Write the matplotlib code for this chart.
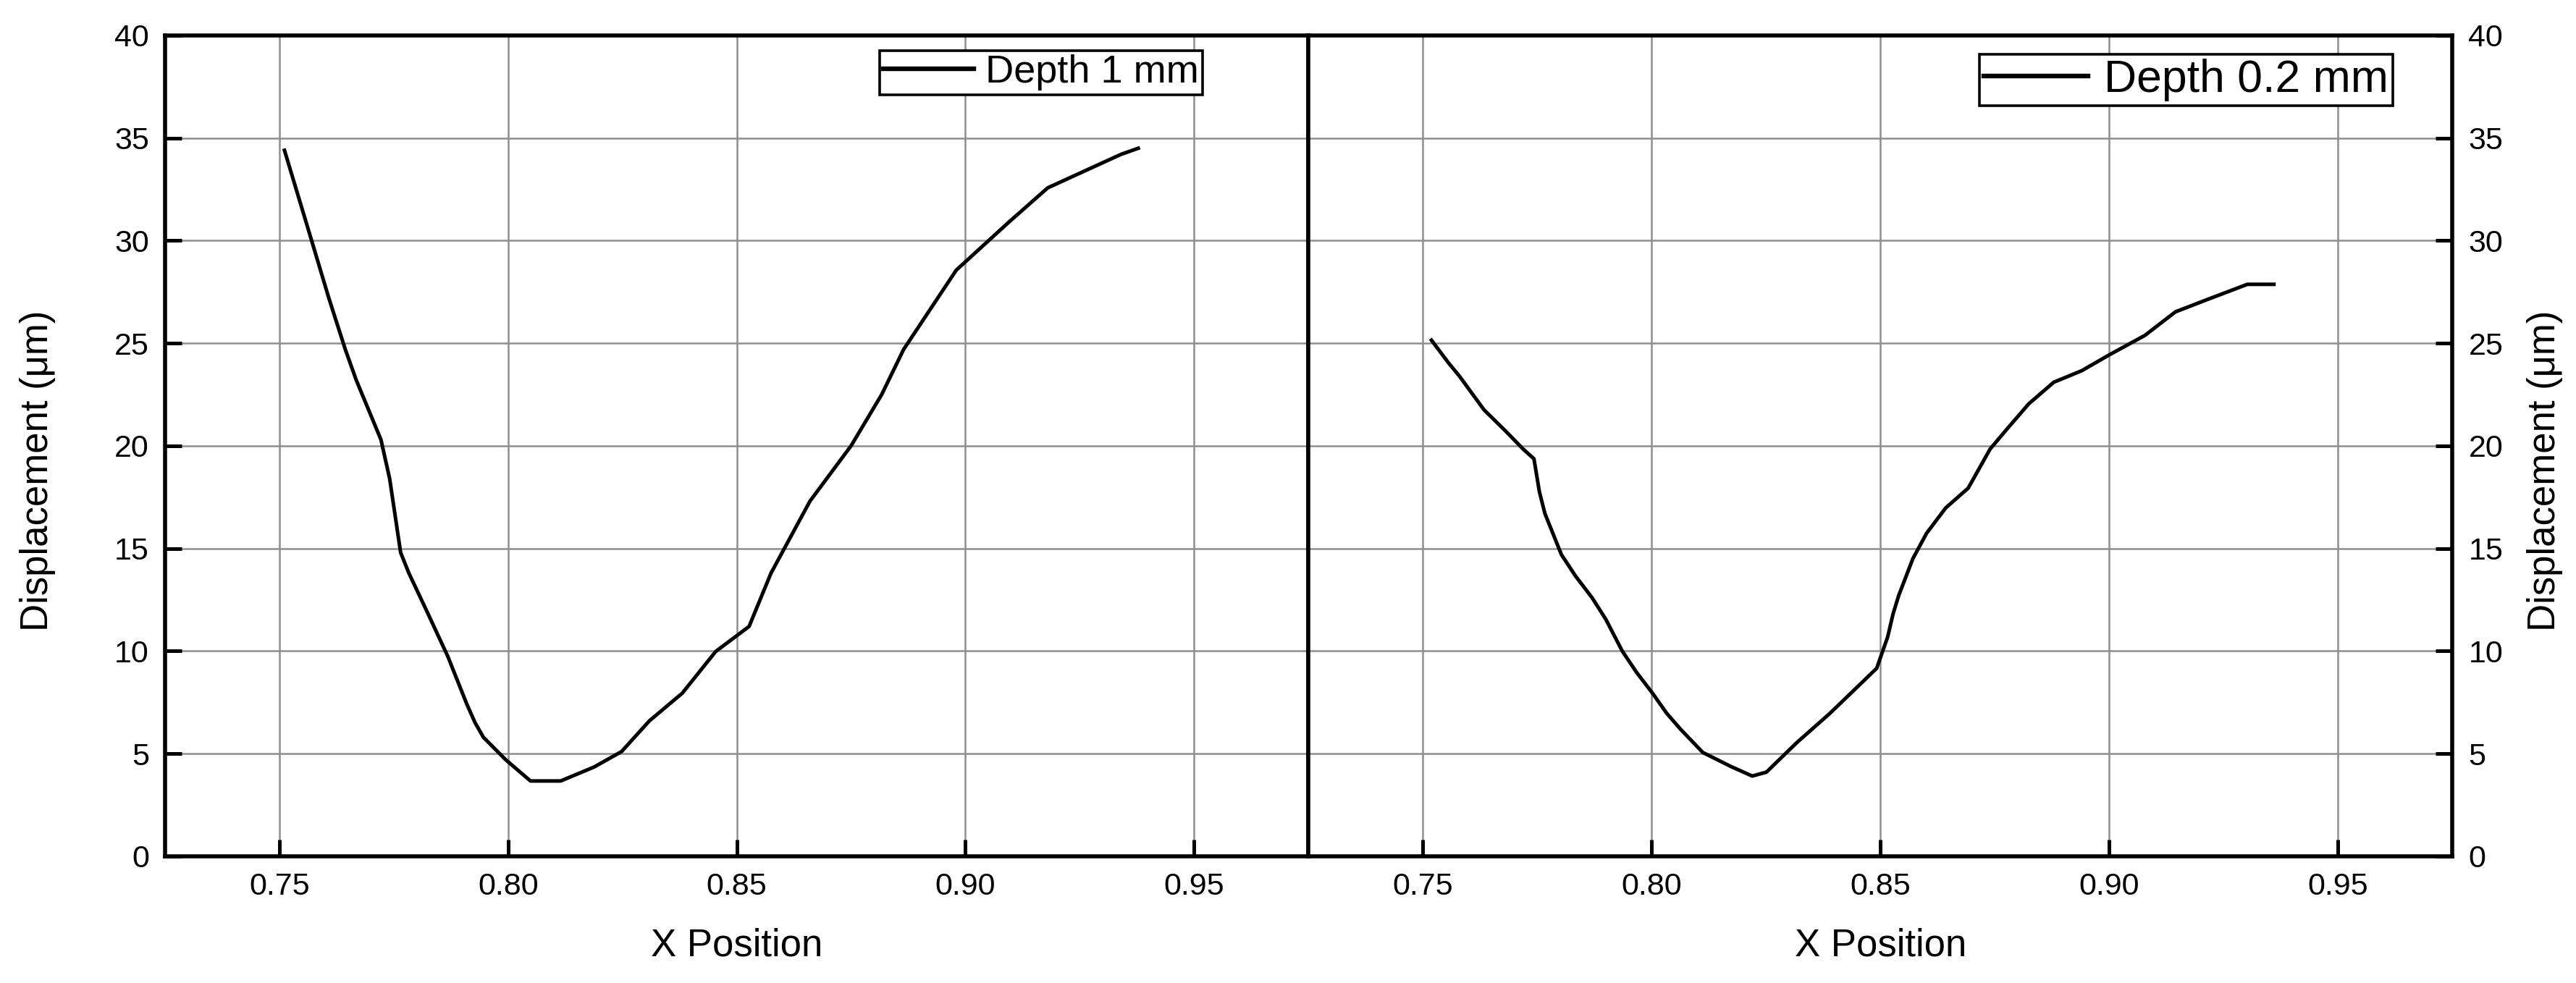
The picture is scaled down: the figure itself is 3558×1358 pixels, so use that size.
import matplotlib
matplotlib.use("Agg")
import matplotlib.pyplot as plt
from matplotlib.ticker import MultipleLocator, FormatStrFormatter

plt.rcParams["font.family"] = ["Liberation Sans", "DejaVu Sans"]

# depth 1 mm profile
x_1mm = [0.7511, 0.7565, 0.7608, 0.7644, 0.7668, 0.7722, 0.7741, 0.7765, 0.7783,
         0.7819, 0.7868, 0.7910, 0.7928, 0.7946, 0.7995, 0.8049, 0.8115, 0.8188,
         0.8248, 0.8309, 0.8381, 0.8454, 0.8527, 0.8575, 0.8660, 0.8750, 0.8817,
         0.8865, 0.8980, 0.9095, 0.9180, 0.9340, 0.9378]
y_1mm = [34.4, 30.4, 27.2, 24.7, 23.2, 20.3, 18.4, 14.8, 13.8,
         12.1, 9.75, 7.4, 6.5, 5.8, 4.7, 3.67, 3.67, 4.35,
         5.1, 6.6, 7.95, 9.98, 11.2, 13.8, 17.3, 20.0, 22.5,
         24.7, 28.56, 30.9, 32.57, 34.2, 34.5]

# depth 0.2 mm profile
x_02mm = [0.7519, 0.7556, 0.7580, 0.7634, 0.7682, 0.7719, 0.7743, 0.7755, 0.7767,
          0.7803, 0.7834, 0.7870, 0.7900, 0.7936, 0.7967, 0.8003, 0.8033, 0.8063,
          0.8112, 0.8172, 0.8220, 0.8251, 0.8317, 0.8390, 0.8438, 0.8492, 0.8516,
          0.8528, 0.8540, 0.8571, 0.8601, 0.8643, 0.8692, 0.8740, 0.8776, 0.8824,
          0.8879, 0.8940, 0.9000, 0.9078, 0.9145, 0.9211, 0.9302, 0.9360]
y_02mm = [25.15, 24.05, 23.4, 21.75, 20.7, 19.85, 19.37, 17.75, 16.7,
          14.7, 13.65, 12.6, 11.55, 10.0, 8.97, 7.92, 6.97, 6.2,
          5.06, 4.39, 3.91, 4.1, 5.53, 6.97, 8.0, 9.16, 10.69,
          11.83, 12.7, 14.5, 15.74, 16.98, 17.94, 19.85, 20.8, 22.04,
          23.1, 23.66, 24.43, 25.38, 26.53, 27.1, 27.87, 27.87]

x_ticks = [0.75, 0.80, 0.85, 0.90, 0.95]

fig = plt.figure(figsize=(17.79, 6.79), dpi=200, facecolor="white")
ax_l = fig.add_axes([0.0641, 0.1289, 0.4438, 0.8351])
ax_r = fig.add_axes([0.5079, 0.1289, 0.4441, 0.8351])


def style_axes(ax, side):
    ax.set_xlim(0.725, 0.975)
    ax.set_ylim(0, 40)
    ax.set_xticks(x_ticks)
    ax.xaxis.set_major_formatter(FormatStrFormatter("%.2f"))
    ax.yaxis.set_major_locator(MultipleLocator(5))
    ax.grid(True, color="#8e8e8e", linewidth=0.9)
    ax.set_axisbelow(True)
    for sp in ax.spines.values():
        sp.set_linewidth(2.0)
        sp.set_color("black")
    ax.tick_params(direction="in", length=8.3, width=1.8, pad=8, labelsize=15.5,
                   top=False, left=(side == "left"), right=(side == "right"),
                   labelleft=(side == "left"), labelright=(side == "right"))
    ax.set_xlabel("X Position", fontsize=19, labelpad=13)
    ax.set_ylabel("Displacement (μm)", fontsize=19)
    if side == "right":
        ax.yaxis.set_label_position("right")
        ax.yaxis.set_label_coords(1.065, 0.47)
    else:
        ax.yaxis.set_label_coords(-0.0956, 0.47)


style_axes(ax_l, "left")
style_axes(ax_r, "right")

ax_l.plot(x_1mm, y_1mm, color="black", linewidth=1.8, label="Depth 1 mm")
ax_r.plot(x_02mm, y_02mm, color="black", linewidth=1.8, label="Depth 0.2 mm")

ax_l.legend(loc="upper right", bbox_to_anchor=(0.9075, 0.9815), fontsize=19.5,
            frameon=True, fancybox=False, edgecolor="black", framealpha=1,
            borderpad=0.1, borderaxespad=0, handlelength=2.3, handletextpad=0.3)
ax_r.legend(loc="upper right", bbox_to_anchor=(0.948, 0.977), fontsize=22.5,
            frameon=True, fancybox=False, edgecolor="black", framealpha=1,
            borderpad=0.1, borderaxespad=0, handlelength=2.3, handletextpad=0.35)
for lg in (ax_l.get_legend(), ax_r.get_legend()):
    lg.get_frame().set_linewidth(1.3)
    for ln in lg.get_lines():
        ln.set_linewidth(2.3)

fig.savefig("out.png", dpi=200, facecolor="white")
